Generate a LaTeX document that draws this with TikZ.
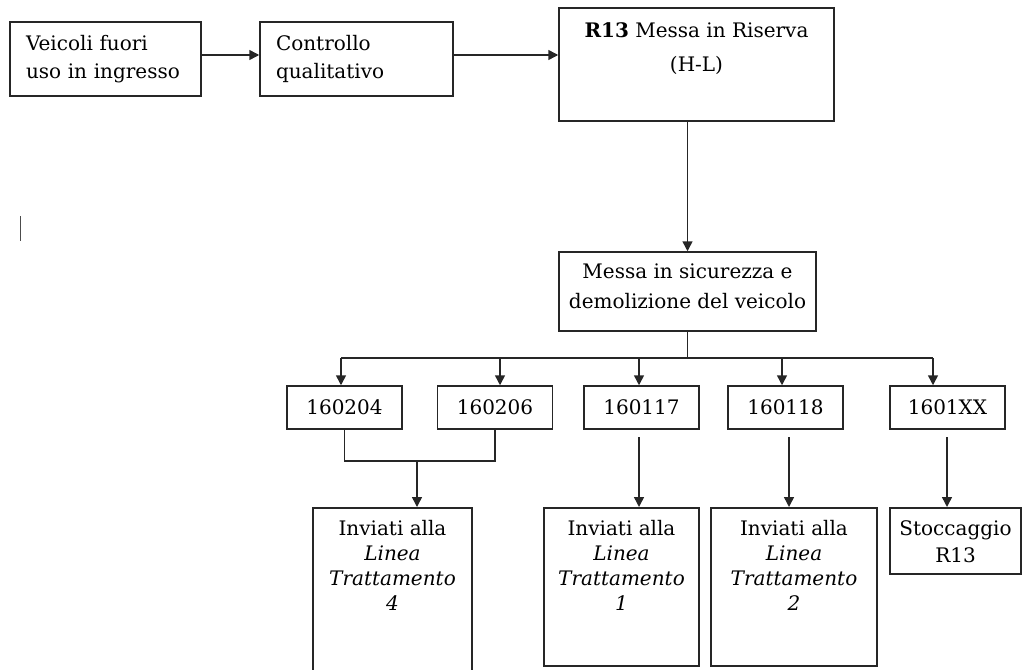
\documentclass[tikz,border=0pt]{standalone}
\usepackage{fontspec}
\setmainfont{DejaVu Serif}
\usetikzlibrary{arrows.meta}

\tikzset{
  box/.style={draw=black!85, line width=1.5pt, inner sep=0pt},
  toptext/.style={anchor=north, align=center, inner sep=0pt},
  ln/.style={draw=black!85, line width=1.5pt},
  arr/.style={ln, -{Triangle[length=10pt,width=10pt]}},
}

\begin{document}
\begin{tikzpicture}[x=1pt, y=-1pt, font=\fontsize{20}{25}\selectfont]

    \useasboundingbox (0,0) rectangle (1022,669);
    \clip (0,0) rectangle (1022,669);

    % top row
    \node[box, minimum width=191pt, minimum height=74pt, text width=159pt, align=left, inner xsep=16pt, font=\fontsize{20}{28}\selectfont] (veicoli) at (105.5,59) {Veicoli fuori\\uso in ingresso};
    \node[box, minimum width=193pt, minimum height=74pt, text width=161pt, align=left, inner xsep=16pt, font=\fontsize{20}{28}\selectfont] (controllo) at (356.5,59) {Controllo\\qualitativo};
    \node[box, minimum width=275pt, minimum height=113pt] (riserva) at (696.5,64.5) {};
    \node[toptext] (riservatxt) at ([yshift=-15pt]riserva.north) {\textbf{R13} Messa in Riserva\\[9pt](H-L)};

    \node[box, minimum width=257pt, minimum height=79pt] (sicurezza) at (687.5,291.5) {};
    \node[toptext, font=\fontsize{20}{30}\selectfont] (sicurezzatxt) at ([yshift=-12pt]sicurezza.north) {Messa in sicurezza e\\demolizione del veicolo};

    % codici
    \node[box, minimum width=115pt, minimum height=43pt] (c160204) at (344.5,407.5) {160204};
    \node[box, minimum width=115pt, minimum height=43pt] (c160206) at (495,407.5) {160206};
    \node[box, minimum width=115pt, minimum height=43pt] (c160117) at (641.5,407.5) {160117};
    \node[box, minimum width=115pt, minimum height=43pt] (c160118) at (785.5,407.5) {160118};
    \node[box, minimum width=115pt, minimum height=43pt] (c1601XX) at (947.5,407.5) {1601XX};

    % destinazioni
    \node[box, minimum width=159pt, minimum height=200pt, anchor=north] (linea4) at (392.5,507) {};
    \node[box, minimum width=155pt, minimum height=158pt, anchor=north] (linea1) at (621.5,507) {};
    \node[box, minimum width=166pt, minimum height=158pt, anchor=north] (linea2) at (794,507) {};
    \node[box, minimum width=131pt, minimum height=66pt, anchor=north] (stoccaggio) at (955.5,507) {};

    \node[toptext] (linea4txt) at ([yshift=-13pt]linea4.north) {Inviati alla\\\textit{Linea}\\\textit{Trattamento}\\\textit{4}};
    \node[toptext] (linea1txt) at ([yshift=-13pt]linea1.north) {Inviati alla\\\textit{Linea}\\\textit{Trattamento}\\\textit{1}};
    \node[toptext] (linea2txt) at ([yshift=-13pt]linea2.north) {Inviati alla\\\textit{Linea}\\\textit{Trattamento}\\\textit{2}};
    \node[toptext, font=\fontsize{20}{27}\selectfont] (stoccaggiotxt) at ([yshift=-13pt]stoccaggio.north) {Stoccaggio\\R13};

    % connettori
    \draw[arr] ([yshift=4pt]veicoli.east) -- ([yshift=4pt]controllo.west);
    \draw[arr] ([yshift=4pt]controllo.east) -- ([yshift=4pt]controllo.east -| riserva.west);
    \draw[arr] (riserva.south -| sicurezza.north) -- (sicurezza.north);

    \coordinate (drop1) at (341,358);
    \coordinate (drop2) at (500,358);
    \coordinate (drop3) at (639,358);
    \coordinate (drop4) at (782,358);
    \coordinate (drop5) at (933,358);
    \draw[ln] (sicurezza.south) -- (sicurezza.south |- drop1);
    \draw[ln] (drop1) -- (drop5);
    \draw[arr] (drop1) -- (drop1 |- c160204.north);
    \draw[arr] (drop2) -- (drop2 |- c160206.north);
    \draw[arr] (drop3) -- (drop3 |- c160117.north);
    \draw[arr] (drop4) -- (drop4 |- c160118.north);
    \draw[arr] (drop5) -- (drop5 |- c1601XX.north);

    \coordinate (join4) at (417,461);
    \draw[ln] (c160204.south) |- (join4) -| (c160206.south);
    \draw[arr] (join4) -- (join4 |- linea4.north);

    \coordinate (from1) at (639,437);
    \coordinate (from2) at (789,437);
    \coordinate (from3) at (947,437);
    \draw[arr] (from1) -- (from1 |- linea1.north);
    \draw[arr] (from2) -- (from2 |- linea2.north);
    \draw[arr] (from3) -- (from3 |- stoccaggio.north);

    % cursore
    \draw[line width=1.6pt, black!70] (20.5,216) -- (20.5,241);

\end{tikzpicture}
\end{document}
